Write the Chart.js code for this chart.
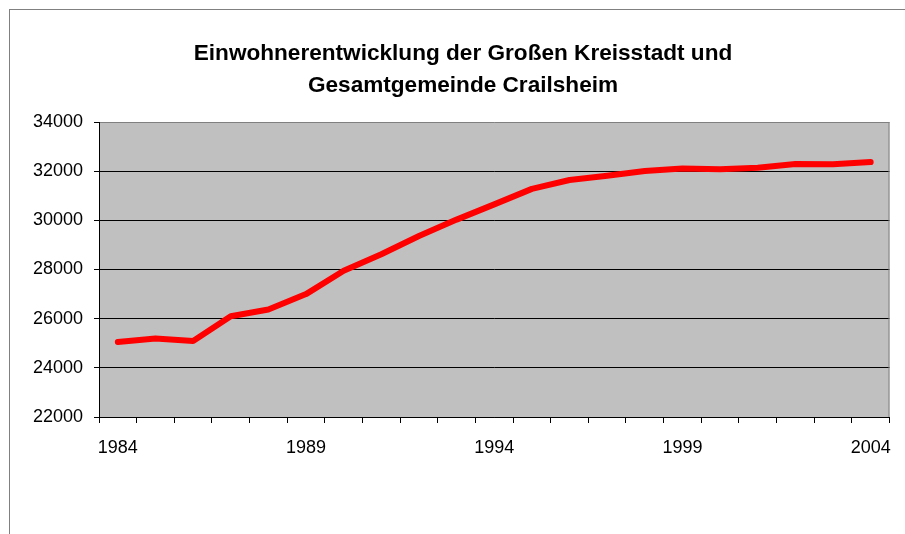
<!DOCTYPE html>
<html>
<head>
<meta charset="utf-8">
<script src="https://cdn.jsdelivr.net/npm/chart.js@4/dist/chart.umd.min.js"></script>
<style>
  html, body { margin: 0; padding: 0; background: #fff; }
</style>
</head>
<body>
<canvas id="popChart" width="905" height="534"></canvas>
<script>
// data
const years = ['1984', '1985', '1986', '1987', '1988', '1989', '1990', '1991', '1992', '1993', '1994',
  '1995', '1996', '1997', '1998', '1999', '2000', '2001', '2002', '2003', '2004'];
const population = [25050, 25190, 25090, 26100, 26370, 27000, 27950, 28620, 29360, 30030, 30650,
  31280, 31640, 31810, 32010, 32110, 32080, 32140, 32290, 32280, 32370];
const yTicks = [22000, 24000, 26000, 28000, 30000, 32000, 34000];
const titleLines = ['Einwohnerentwicklung der Großen Kreisstadt und', 'Gesamtgemeinde Crailsheim'];

const FONT = '"Liberation Sans", Arial, sans-serif';

// gray plot background, outer frame, right border and title
const framePlugin = {
  id: 'frame',
  beforeDraw(chart) {
    const { ctx, chartArea: a } = chart;
    ctx.save();
    ctx.fillStyle = '#c0c0c0';
    ctx.fillRect(a.left, a.top, a.right - a.left, a.bottom - a.top);
    ctx.strokeStyle = '#808080';
    ctx.lineWidth = 1;
    ctx.strokeRect(9.5, 9.5, 1000, 1000);
    ctx.restore();
  },
  beforeDatasetsDraw(chart) {
    const { ctx, chartArea: a } = chart;
    ctx.save();
    ctx.strokeStyle = '#808080';
    ctx.lineWidth = 1;
    ctx.beginPath();
    ctx.moveTo(a.right - 0.5, a.top);
    ctx.lineTo(a.right - 0.5, a.bottom);
    ctx.stroke();
    ctx.restore();
  },
  afterDraw(chart) {
    const ctx = chart.ctx;
    ctx.save();
    ctx.fillStyle = '#000';
    ctx.font = 'bold 22.6px ' + FONT;
    ctx.textAlign = 'center';
    ctx.textBaseline = 'alphabetic';
    ctx.fillText(titleLines[0], 463, 60);
    ctx.fillText(titleLines[1], 463, 92);
    ctx.restore();
  }
};

new Chart(document.getElementById('popChart').getContext('2d'), {
  type: 'line',
  data: {
    labels: years,
    datasets: [{
      data: population,
      borderColor: '#ff0000',
      borderWidth: 6,
      borderCapStyle: 'round',
      borderJoinStyle: 'round',
      tension: 0,
      pointRadius: 0,
      fill: false
    }]
  },
  options: {
    responsive: false,
    animation: false,
    layout: { padding: { top: 122, right: 13, bottom: 0, left: 0 } },
    plugins: { legend: { display: false }, tooltip: { enabled: false } },
    scales: {
      x: {
        type: 'category',
        offset: true,
        afterFit: s => { s.height = 117; },
        grid: { offset: true, drawOnChartArea: false, tickLength: 6, color: '#000' },
        border: { color: '#000' },
        ticks: {
          autoSkip: false,
          maxRotation: 0,
          padding: 14,
          color: '#000',
          font: { family: FONT, size: 18 },
          callback: function (value, index) {
            return index % 5 === 0 ? this.getLabelForValue(value) : '';
          }
        }
      },
      y: {
        min: yTicks[0],
        max: yTicks[yTicks.length - 1],
        afterBuildTicks: s => { s.ticks = yTicks.map(v => ({ value: v })); },
        afterFit: s => { s.width = 99; },
        grid: {
          tickLength: 5,
          tickColor: '#000',
          color: c => (c.tick && c.tick.value === yTicks[yTicks.length - 1]) ? '#808080' : '#000'
        },
        border: { color: '#000' },
        ticks: {
          padding: 11,
          color: '#000',
          font: { family: FONT, size: 18 },
          callback: value => String(value)
        }
      }
    }
  },
  plugins: [framePlugin]
});
</script>
</body>
</html>
